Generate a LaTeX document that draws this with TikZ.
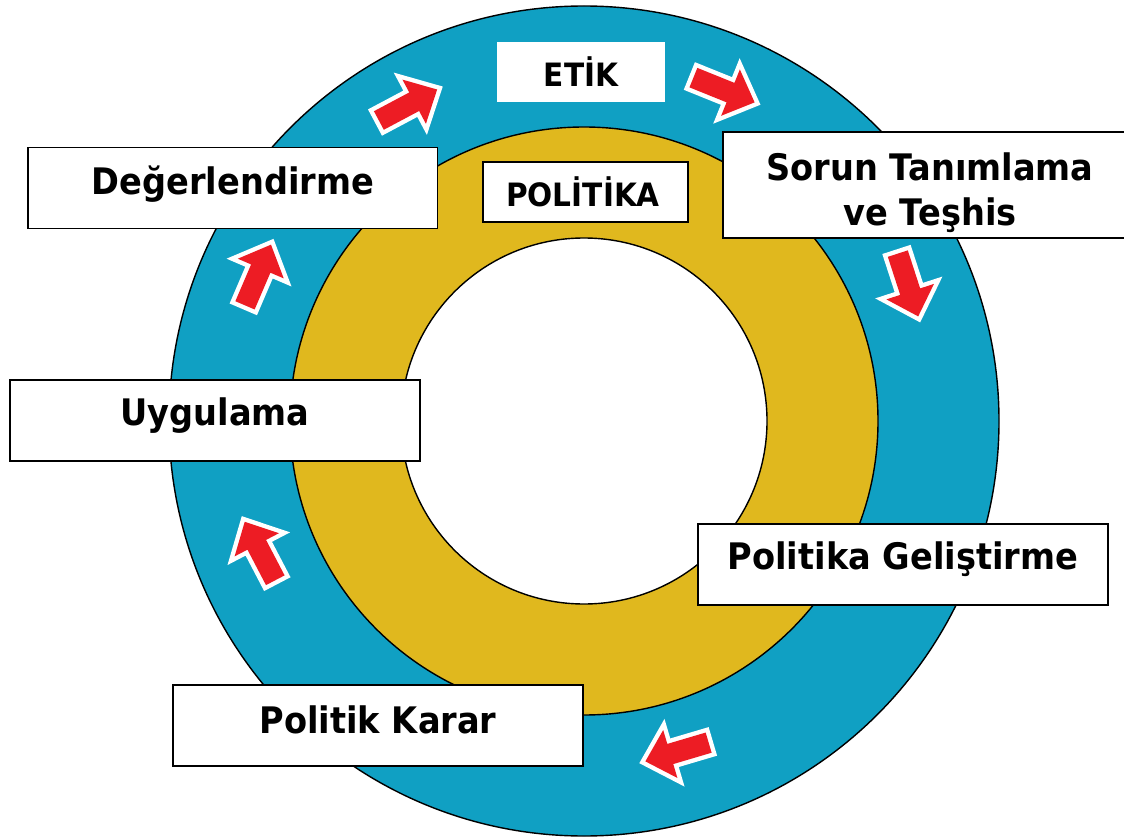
\documentclass[tikz,border=0pt]{standalone}
\usepackage{fontspec}
\setmainfont{DejaVu Sans}[FakeStretch=0.92]
\usepackage{tikz}
\usetikzlibrary{positioning}

\definecolor{ringblue}{RGB}{16,160,195}
\definecolor{ringgold}{RGB}{224,184,30}
\definecolor{arrowred}{RGB}{237,28,36}

\tikzset{
  stagebox/.style={draw=black, line width=1.1pt, fill=white, inner sep=0pt,
                   minimum width=8.2cm, minimum height=1.62cm},
  tagbox/.style={fill=white, inner sep=0pt, minimum height=1.2cm},
  stagetext/.style={font=\bfseries\fontsize{20.8}{25.6}\selectfont, align=center, inner sep=0pt},
  tagtext/.style={font=\bfseries\fontsize{18.3}{20}\selectfont, inner sep=0pt},
  cyclearrow/.pic={
    \fill[arrowred, preaction={draw=white, line width=5pt, line join=miter}]
      (-33,-10.5) -- (7,-10.5) -- (7,-25) -- (33,0) -- (7,25) -- (7,10.5) -- (-33,10.5) -- cycle;
  }
}

\begin{document}
\begin{tikzpicture}[x=0.02cm, y=-0.02cm]
    \clip (0,0) rectangle (1124,837);
    \coordinate (ctr) at (584,421);

    % rings
    \filldraw[fill=ringblue, line width=0.8pt] (ctr) circle[radius=415];
    \filldraw[fill=ringgold, line width=0.8pt] (ctr) circle[radius=294];
    \filldraw[fill=white,    line width=0.8pt] (ctr) circle[radius=183];

    % cycle arrows
    \pic[rotate=28]     at (408,105) {cyclearrow};
    \pic[rotate=-22]    at (724,90)  {cyclearrow};
    \pic[rotate=-72]    at (908,285) {cyclearrow};
    \pic[rotate=196.5]  at (677,752) {cyclearrow};
    \pic[rotate=117.6]  at (260,551) {cyclearrow};
    \pic[rotate=66.8]   at (258,275) {cyclearrow};

    % tags
    \node[tagbox, minimum width=3.36cm] at (581,72) (etik) {};
    \node[tagtext] at (581,72) (etiklbl) {ETİK};
    \node[tagbox, draw=black, line width=1.1pt, minimum width=4.1cm] at (585.5,192) (pol) {};
    \node[tagtext] at (583,192) (pollbl) {POLİTİKA};

    % stages
    \node[stagebox] at (232.5,188) (deger) {};
    \node[stagetext] at (233,184) (degerlbl) {Değerlendirme};

    \node[stagebox, minimum height=2.12cm] at (927.5,185) (sorun) {};
    \node[stagetext] at (930,193) (sorunlbl) {Sorun Tanımlama\\ve Teşhis};

    \node[stagebox] at (215,420.5) (uyg) {};
    \node[stagetext] at (215,416) (uyglbl) {Uygulama};

    \node[stagebox] at (903,564.5) (polgel) {};
    \node[stagetext] at (903,559) (polgellbl) {Politika Geliştirme};

    \node[stagebox] at (378,725.5) (polkar) {};
    \node[stagetext] at (378,720) (polkarlbl) {Politik Karar};
\end{tikzpicture}
\end{document}
